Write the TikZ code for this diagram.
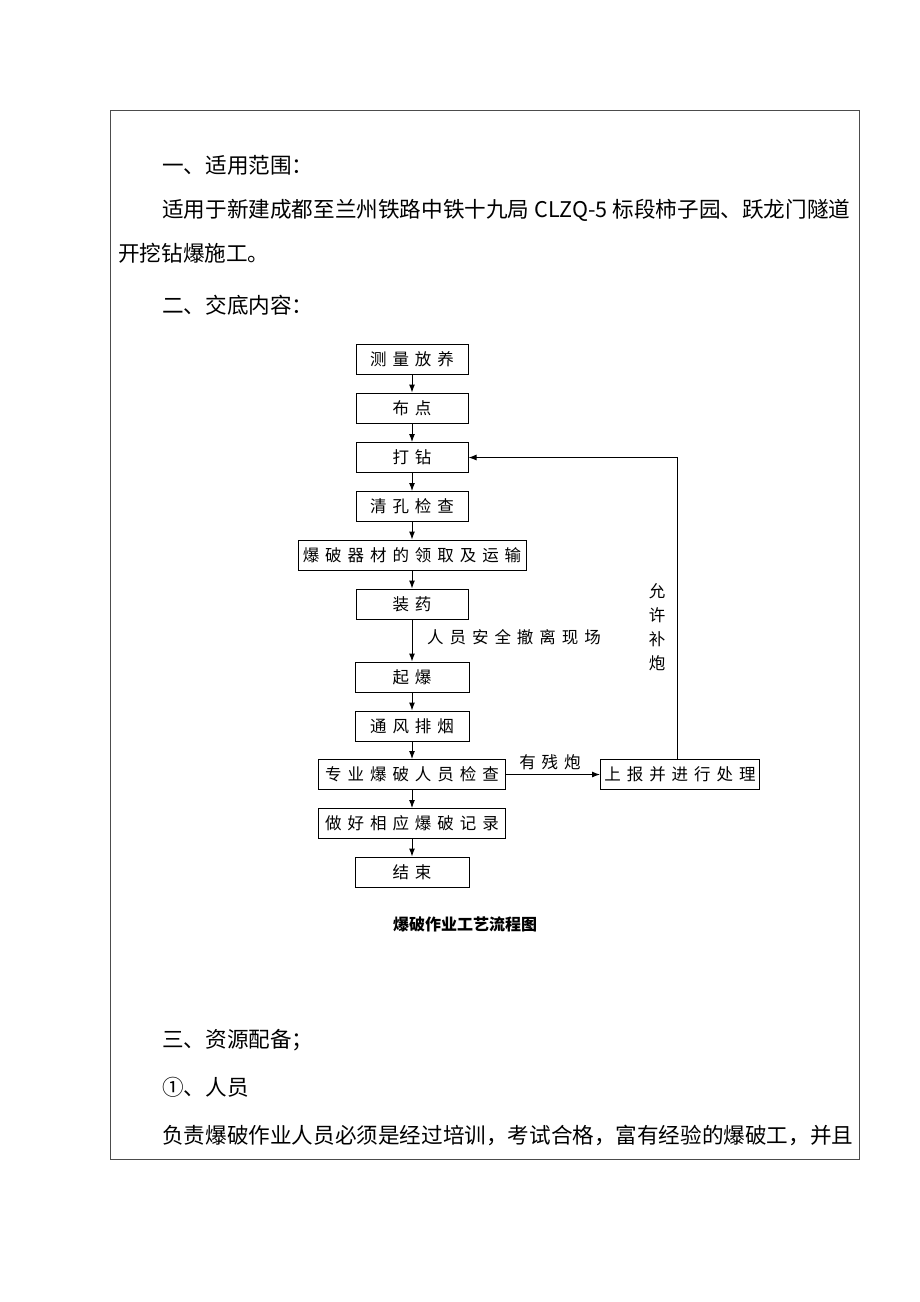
\documentclass[tikz,border=0pt]{standalone}
\usepackage{fontspec}
\newfontfamily\cjk{Noto Sans CJK SC}
\newfontfamily\cjkwide[LetterSpace=36]{Noto Sans CJK SC}
\usetikzlibrary{arrows.meta}

\begin{document}
\begin{tikzpicture}[x=1pt,y=-1pt,
    process/.style ={rectangle, draw, line width=1pt, inner sep=0pt, minimum height=30pt,
      font=\cjkwide\fontsize{16.5}{16.5}\selectfont},
    body/.style ={anchor=west, inner sep=0pt, font=\cjk\fontsize{21.6}{21.6}\selectfont},
    remark/.style ={inner sep=0pt, font=\cjkwide\fontsize{16.5}{16.5}\selectfont},
    flow/.style ={line width=1pt, -{Latex[length=8pt,width=6pt]}}]
   \useasboundingbox (0,0) rectangle (920,1302);
   % page frame
   \draw[line width=1pt, black!70] (110,110) rectangle (859,1159);
   % text above the chart
   \node[body] (T1) at (162,165) {一、适用范围：};
   \node[body] (T2) at (162,210) {适用于新建成都至兰州铁路中铁十九局 CLZQ-5 标段柿子园、跃龙门隧道};
   \node[body] (T3) at (118,253) {开挖钻爆施工。};
   \node[body] (T4) at (162,305) {二、交底内容：};
   % flow chart
   \node[process, minimum width=112pt] (A1)  at (412,359)   {测量放养};
   \node[process, minimum width=112pt] (A2)  at (412,408)   {布点};
   \node[process, minimum width=112pt] (A3)  at (412,457.5) {打钻};
   \node[process, minimum width=112pt] (A4)  at (412,506.5) {清孔检查};
   \node[process, minimum width=228pt] (A5)  at (412,555)   {爆破器材的领取及运输};
   \node[process, minimum width=112pt] (A6)  at (412,604)   {装药};
   \node[process, minimum width=114pt] (A7)  at (412,677)   {起爆};
   \node[process, minimum width=114pt] (A8)  at (412,726)   {通风排烟};
   \node[process, minimum width=187pt] (A9)  at (412,774.5) {专业爆破人员检查};
   \node[process, minimum width=187pt] (A10) at (412,823.5) {做好相应爆破记录};
   \node[process, minimum width=114pt] (A11) at (412,872)   {结束};
   \node[process, minimum width=159pt] (B)   at (680,774.5) {上报并进行处理};
   \draw[flow] (A1) to (A2);
   \draw[flow] (A2) to (A3);
   \draw[flow] (A3) to (A4);
   \draw[flow] (A4) to (A5);
   \draw[flow] (A5) to (A6);
   \draw[flow] (A6) to (A7);
   \draw[flow] (A7) to (A8);
   \draw[flow] (A8) to (A9);
   \draw[flow] (A9) to (A10);
   \draw[flow] (A10) to (A11);
   \draw[flow] (A9) to (B);
   \draw[flow] ([xshift=-3pt]B.north) |- (A3.east);
   \node[remark, anchor=west] (L1) at (427,637) {人员安全撤离现场};
   \node[remark] (L2) at (550,762) {有残炮};
   \node[remark, align=center, font=\cjk\fontsize{16.5}{24}\selectfont] (L3) at (657,627) {允\\许\\补\\炮};
   \node[inner sep=0pt, font=\cjk\fontsize{16}{16}\selectfont\bfseries] (C) at (465,924) {爆破作业工艺流程图};
   % text below the chart
   \node[body] (T5) at (162,1040) {三、资源配备；};
   \node[body] (T6) at (162,1087) {①、人员};
   \node[body] (T7) at (162,1135) {负责爆破作业人员必须是经过培训，考试合格，富有经验的爆破工，并且};
 \end{tikzpicture}
\end{document}
